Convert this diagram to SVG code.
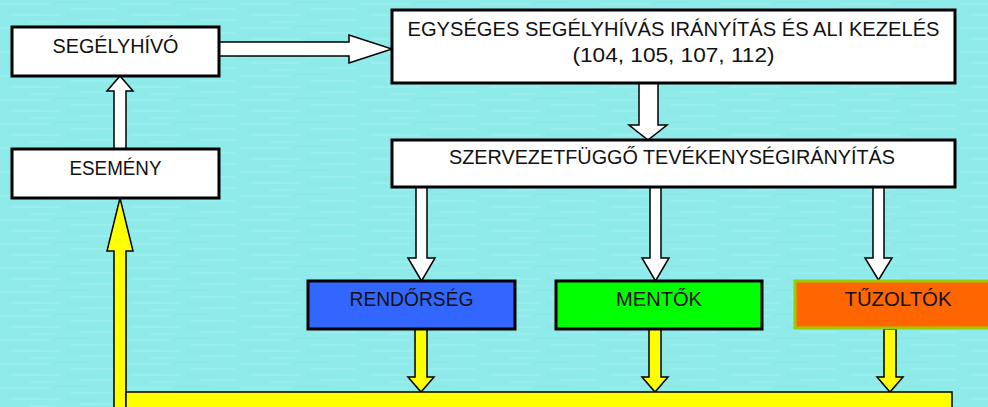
<svg xmlns="http://www.w3.org/2000/svg" width="988" height="407" viewBox="0 0 988 407">
  <defs>
    <pattern id="tex" x="0" y="0" width="120" height="24" patternUnits="userSpaceOnUse">
      <rect width="120" height="24" fill="#8FEAEA"/>
      <path d="M0 4 H50 M70 9 H115 M10 15 H60 M80 20 H118 M30 22 H55" stroke="#A6F2F2" stroke-width="1.5" opacity="0.6"/>
      <path d="M55 2 H90 M5 11 H40 M65 16 H100" stroke="#86E2E2" stroke-width="1" opacity="0.6"/>
    </pattern>
  </defs>
  <style>
    .box { stroke: #000; stroke-width: 3; }
    .wbox { fill: #fff; }
    .lbl { font-family: "Liberation Sans", Arial, sans-serif; font-size: 21px; fill: #111; text-anchor: middle; }
    .warr { fill: #fff; stroke: #000; stroke-width: 1.5; stroke-linejoin: miter; }
    .yarr { fill: #FFFF00; stroke: #000; stroke-width: 1.5; stroke-linejoin: miter; }
  </style>
  <rect width="988" height="407" fill="url(#tex)"/>

  <g id="connectors">
    <!-- SEGÉLYHÍVÓ -> EGYSÉGES -->
    <polygon class="warr" points="219,42 349,42 349,35 392,49 349,63 349,56 219,56"/>
    <!-- ESEMÉNY -> SEGÉLYHÍVÓ -->
    <polygon class="warr" points="114,149 114,91 107,91 120,76 133,91 126,91 126,149"/>
    <!-- EGYSÉGES -> SZERVEZET -->
    <polygon class="warr" points="639,83 658,83 658,125 667,125 648,140 629,125 639,125"/>
    <!-- SZERVEZET -> RENDŐRSÉG -->
    <polygon class="warr" points="416,187 427,187 427,258 435,258 421.5,281 408,258 416,258"/>
    <!-- SZERVEZET -> MENTŐK -->
    <polygon class="warr" points="650,187 661,187 661,258 669,258 655.5,281 642,258 650,258"/>
    <!-- SZERVEZET -> TŰZOLTÓK -->
    <polygon class="warr" points="873,187 884,187 884,258 892,258 878.5,280 865,258 873,258"/>
    <!-- RENDŐRSÉG -> bottom -->
    <polygon class="yarr" points="415,329 427,329 427,377 434,377 421,392 408,377 415,377"/>
    <!-- MENTŐK -> bottom -->
    <polygon class="yarr" points="649,329 661,329 661,377 668,377 655,392 642,377 649,377"/>
    <!-- TŰZOLTÓK -> bottom -->
    <polygon class="yarr" points="884,329 896,329 896,377 903,377 890,392 877,377 884,377"/>
    <!-- bottom -> ESEMÉNY -->
    <polygon class="yarr" points="114,410 114,251 107,251 120,198 133,251 126,251 126,410"/>
  </g>

  <g id="node-bottom">
    <rect x="126" y="392" width="826" height="20" fill="#FFFF00" stroke="#000" stroke-width="1.5"/>
  </g>

  <g id="node-segelyhivo">
    <rect class="box wbox" x="12" y="27" width="207" height="49"/>
    <text class="lbl" x="115.5" y="53" textLength="126" lengthAdjust="spacingAndGlyphs">SEGÉLYHÍVÓ</text>
  </g>

  <g id="node-esemeny">
    <rect class="box wbox" x="12" y="149" width="207" height="49"/>
    <text class="lbl" x="115.5" y="175" textLength="92" lengthAdjust="spacingAndGlyphs">ESEMÉNY</text>
  </g>

  <g id="node-egyseges">
    <rect class="box wbox" x="392" y="10" width="563" height="73"/>
    <text class="lbl" x="673.5" y="36" textLength="532" lengthAdjust="spacingAndGlyphs">EGYSÉGES SEGÉLYHÍVÁS IRÁNYÍTÁS ÉS ALI KEZELÉS</text>
    <text class="lbl" x="673.5" y="62" textLength="202" lengthAdjust="spacingAndGlyphs">(104, 105, 107, 112)</text>
  </g>

  <g id="node-szervezet">
    <rect class="box wbox" x="392" y="140" width="563" height="47"/>
    <text class="lbl" x="672" y="164" textLength="446" lengthAdjust="spacingAndGlyphs">SZERVEZETFÜGGŐ TEVÉKENYSÉGIRÁNYÍTÁS</text>
  </g>

  <g id="node-rendorseg">
    <rect class="box" x="308" y="281" width="207" height="48" fill="#3366FF"/>
    <text class="lbl" x="411.5" y="306" textLength="124" lengthAdjust="spacingAndGlyphs">RENDŐRSÉG</text>
  </g>

  <g id="node-mentok">
    <rect class="box" x="556" y="281" width="206" height="48" fill="#00FF00"/>
    <text class="lbl" x="659" y="306" textLength="86" lengthAdjust="spacingAndGlyphs">MENTŐK</text>
  </g>

  <g id="node-tuzoltok">
    <rect x="795" y="281" width="210" height="47" fill="#FF6600" stroke="#99CC00" stroke-width="3"/>
    <text class="lbl" x="898" y="306" textLength="107" lengthAdjust="spacingAndGlyphs">TŰZOLTÓK</text>
  </g>
</svg>
